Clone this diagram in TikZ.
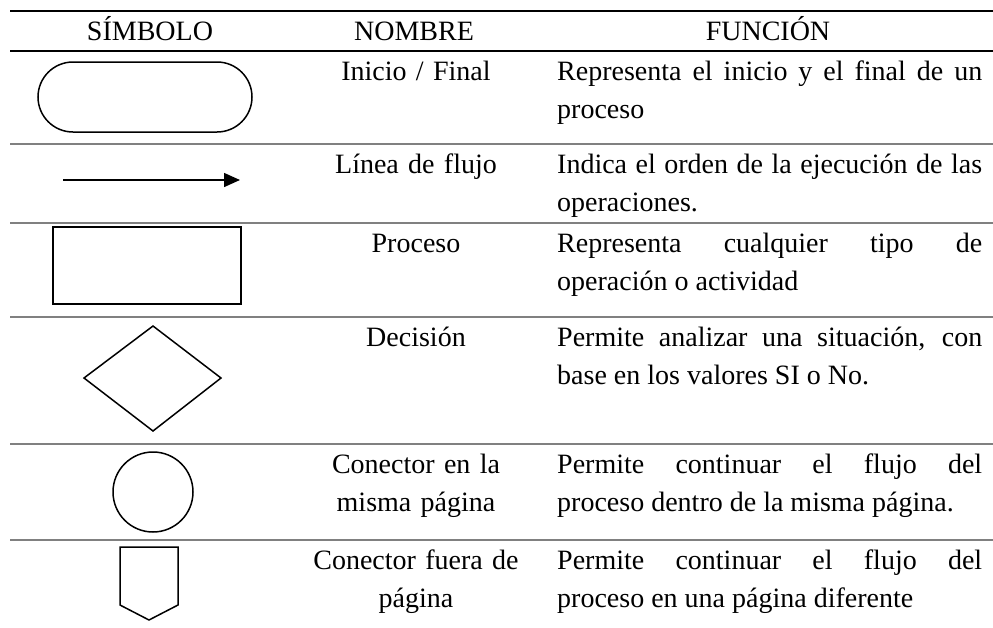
\documentclass[tikz,border=0pt]{standalone}
\usepackage{fontspec}
\setmainfont{Liberation Serif}
\usetikzlibrary{arrows.meta}

\definecolor{rulegray}{gray}{0.5}
\hyphenpenalty=10000

\tikzset{
  reglanegra/.style={line width=2pt, black},
  regla/.style={line width=2pt, rulegray},
  simbolo/.style={line width=1.5pt, black},
  cabecera/.style={anchor=base, inner sep=0},
  nombre/.style={anchor=base, inner sep=0, text width=230pt, align=center},
  funcion/.style={anchor=base west, inner sep=0, text width=425pt, align=justify},
}

\begin{document}
\begin{tikzpicture}[x=1pt, y=-1pt, font=\fontsize{28}{38}\selectfont]
  \useasboundingbox (0,0) rectangle (993,627);

  % rules of the table
  \draw [reglanegra] (10,11) -- (993,11);
  \draw [reglanegra] (10,51) -- (993,51);
  \foreach \y in {144,223,317,444,540}
    \draw [regla] (10,\y) -- (993,\y);

  % header
  \node (hsimbolo) at (150,40) [cabecera] {SÍMBOLO};
  \node (hnombre) at (414,40) [cabecera] {NOMBRE};
  \node (hfuncion) at (768,40) [cabecera] {FUNCIÓN};

  % symbols
  \draw [simbolo, rounded corners=35pt] (38,62) rectangle (252,132);

  \coordinate (flechaini) at (63,180);
  \coordinate (flechafin) at (240,180);
  \draw [simbolo, -{Triangle[length=16pt, width=14pt]}] (flechaini) -- (flechafin);

  \draw [simbolo] (53,227) rectangle (241,304);

  \draw [simbolo] (153,326) -- (221,378) -- (153,431) -- (84,378) -- cycle;

  \draw [simbolo] (153,492) circle (40pt);

  \draw [simbolo] (120,547) -- (178,547) -- (178,605) -- (149,620) -- (120,605) -- cycle;

  % names
  \node (ninicio) at (416,80) [nombre] {Inicio / Final};
  \node (nlinea) at (416,173) [nombre] {Línea de flujo};
  \node (nproceso) at (416,252) [nombre] {Proceso};
  \node (ndecision) at (416,346) [nombre] {Decisión};
  \node (nconector) at (416,473) [nombre] {Conector en la\\ misma página};
  \node (nfuera) at (416,569) [nombre] {Conector fuera de\\ página};

  % functions
  \node (finicio) at (557,80) [funcion] {Representa el inicio y el final de un\linebreak proceso};
  \node (flinea) at (557,173) [funcion] {Indica el orden de la ejecución de las\linebreak operaciones.};
  \node (fproceso) at (557,252) [funcion] {Representa cualquier tipo de\linebreak operación o actividad};
  \node (fdecision) at (557,346) [funcion] {Permite analizar una situación, con\linebreak base en los valores SI o No.};
  \node (fconector) at (557,473) [funcion] {Permite continuar el flujo del\linebreak proceso dentro de la misma página.};
  \node (ffuera) at (557,569) [funcion] {Permite continuar el flujo del\linebreak proceso en una página diferente};
\end{tikzpicture}
\end{document}
